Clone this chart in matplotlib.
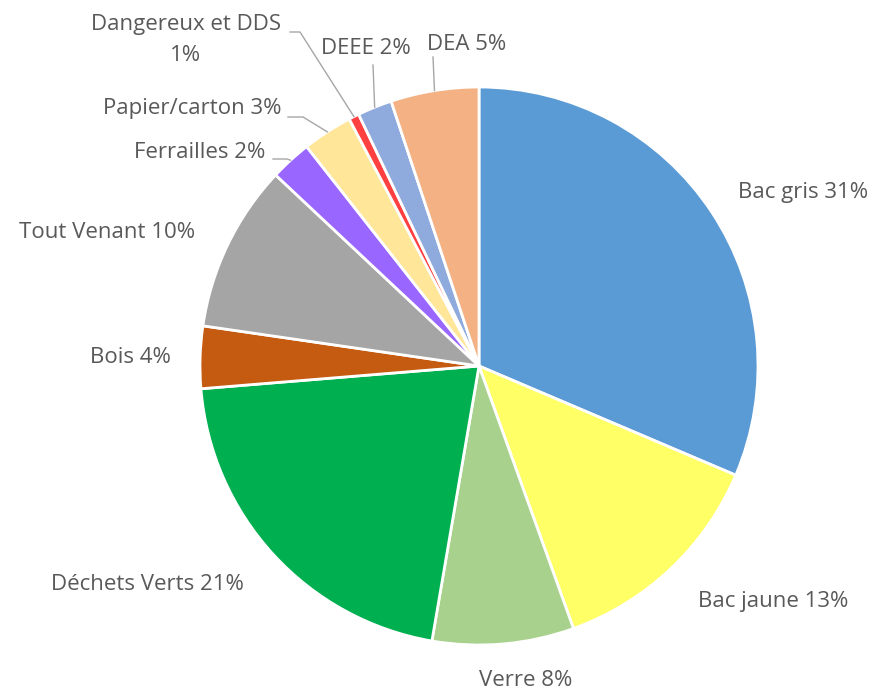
import numpy as np
import matplotlib
matplotlib.use("Agg")
import matplotlib.pyplot as plt

# données (parts en %)
categories = ["Bac gris", "Bac jaune", "Verre", "Déchets Verts", "Bois",
              "Tout Venant", "Ferrailles", "Papier/carton",
              "Dangereux et DDS", "DEEE", "DEA"]
values = [31.4, 13.1, 8.2, 21.0, 3.6, 9.7, 2.4, 2.9, 0.6, 2.0, 5.1]
colors = ["#5B9BD5", "#FFFF66", "#A9D18E", "#00B050", "#C55A11",
          "#A5A5A5", "#9966FF", "#FFE699", "#FF4040", "#8FAADC", "#F4B183"]

W, H = 874, 691
CX, CY, R = 479, 366, 279


def px(x, y):
    # coordonnées image (y vers le bas) -> coordonnées axes
    return x, H - y


# position des étiquettes (centre du texte, en pixels image)
label_pos = {
    "Bac gris": (803, 192),
    "Bac jaune": (773, 601),
    "Verre": (526, 680),
    "Déchets Verts": (147, 585),
    "Bois": (130, 357),
    "Tout Venant": (107, 232),
    "Ferrailles": (200, 152),
    "Papier/carton": (192, 108),
    "Dangereux et DDS": (186, 40),
    "DEEE": (366, 48),
    "DEA": (467, 44),
}
# lignes de rappel : points de départ côté texte
leaders = {
    "Ferrailles": [(273, 159), (287, 159)],
    "Papier/carton": [(288, 117), (303, 117)],
    "Dangereux et DDS": [(290, 32), (300, 32)],
    "DEEE": [(373, 65)],
    "DEA": [(433, 57)],
}

fig = plt.figure(figsize=(W / 100, H / 100), dpi=100)
ax = fig.add_axes([0, 0, 1, 1])

wedges, _ = ax.pie(values, colors=colors, startangle=90, counterclock=False,
                   center=px(CX, CY), radius=R,
                   wedgeprops=dict(edgecolor="white", linewidth=2))

ax.set_xlim(0, W)
ax.set_ylim(0, H)
ax.set_aspect("equal")
ax.axis("off")

for name, val, w in zip(categories, values, wedges):
    txt = f"{name} {val:.0f}%"
    if name == "Dangereux et DDS":
        txt = f"{name}\n{val:.0f}%"
    x, y = label_pos[name]
    ax.text(*px(x, y), txt, ha="center", va="center", fontsize=16,
            color="#595959", family="Open Sans", linespacing=1.6)
    if name in leaders:
        mid = np.deg2rad((w.theta1 + w.theta2) / 2)
        ex = w.center[0] + R * np.cos(mid)
        ey = w.center[1] + R * np.sin(mid)
        pts = [px(a, b) for a, b in leaders[name]] + [(ex, ey)]
        xs, ys = zip(*pts)
        ax.plot(xs, ys, color="#A6A6A6", linewidth=1)

fig.savefig("out.png", dpi=100)
